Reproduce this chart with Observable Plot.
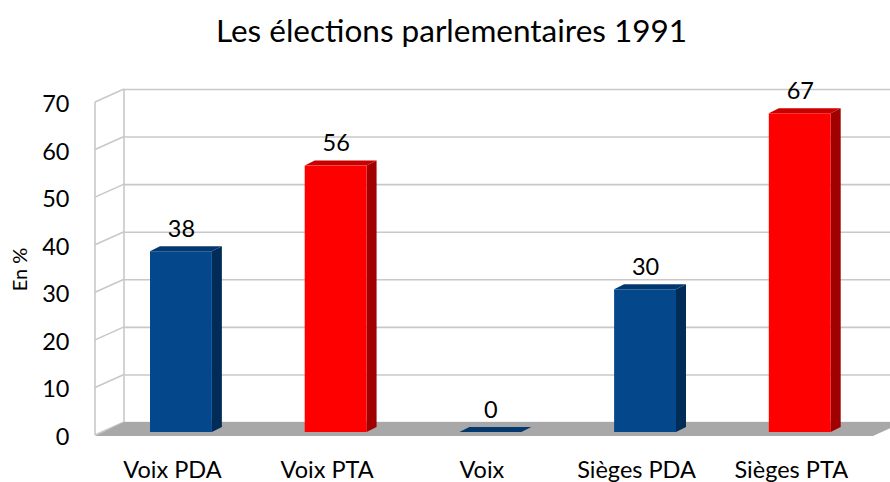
<!DOCTYPE html>
<html>
<head>
<meta charset="utf-8">
<script src="https://cdn.jsdelivr.net/npm/d3@7"></script>
<script src="https://cdn.jsdelivr.net/npm/@observablehq/plot@0.6"></script>
<style>
  html, body { margin: 0; padding: 0; background: #fff; overflow: hidden; }
  #chart svg { display: block; }
</style>
</head>
<body>
<div id="chart"></div>
<script>
// ---- data ----
const title = "Les élections parlementaires 1991";
const yLabel = "En %";
const categories = ["Voix PDA", "Voix PTA", "Voix", "Sièges PDA", "Sièges PTA"];
const values = [38, 56, 0, 30, 67];
const parties = ["PDA", "PTA", "PDA", "PDA", "PTA"];
const yTicks = [0, 10, 20, 30, 40, 50, 60, 70];

// ---- styles ----
const palette = {
  PDA: {front: "#04478a", top: "#03386e", side: "#022c58"},
  PTA: {front: "#ff0000", top: "#c80000", side: "#a00000"}
};
const FONT = "Lato, 'Open Sans', sans-serif";
const W = 890, H = 482;
const WALL_DX = -29, WALL_DY = 13;   // front plane offset vs back wall
const BAR_DY = 10;                   // bar front plane offset vs back wall
const DEPTH_DX = 10, DEPTH_DY = -5;  // bar depth
const GRID = "#c8c8c8";

const data = categories.map((c, i) => ({cat: c, value: values[i], party: parties[i]}));

// side wall, back wall edges
function walls(index, scales, values_, dims) {
  const {y} = scales;
  const ml = dims.marginLeft;
  const g = d3.create("svg:g").attr("fill", "none").attr("stroke", GRID).attr("stroke-width", 1.6);
  const top = d3.max(yTicks), bot = d3.min(yTicks);
  g.append("path").attr("d", `M${ml + WALL_DX},${y(top) + WALL_DY}L${ml + WALL_DX},${y(bot) + WALL_DY}`);
  g.append("path").attr("d", `M${ml},${y(top)}L${ml},${y(bot)}`);
  for (const t of yTicks) {
    g.append("path").attr("d", `M${ml + WALL_DX},${y(t) + WALL_DY}L${ml},${y(t)}`);
  }
  return g.node();
}

// floor
function floor(index, scales, values_, dims) {
  const {y} = scales;
  const ml = dims.marginLeft;
  const y0 = y(0);
  return d3.create("svg:path")
    .attr("fill", "#a8a8a8")
    .attr("d", `M${ml},${y0}L${dims.width + 14},${y0}L${dims.width - 17},${y0 + WALL_DY + 1}L${ml + WALL_DX},${y0 + WALL_DY + 1}Z`)
    .node();
}

// bar side & top faces
function barDepth(index, scales, values_, dims) {
  const {x, y} = scales;
  const bw = x.bandwidth();
  const g = d3.create("svg:g");
  data.forEach(d => {
    const x0 = x(d.cat), x1 = x0 + bw;
    const yb = y(0) + BAR_DY, yt = y(d.value) + BAR_DY;
    const col = palette[d.party];
    if (yb - yt > 0) {
      g.append("path").attr("fill", col.side)
        .attr("d", `M${x1},${yb}L${x1 + DEPTH_DX},${yb + DEPTH_DY}L${x1 + DEPTH_DX},${yt + DEPTH_DY}L${x1},${yt}Z`);
    }
    g.append("path").attr("fill", col.top)
      .attr("d", `M${x0},${yt}L${x1},${yt}L${x1 + DEPTH_DX},${yt + DEPTH_DY}L${x0 + DEPTH_DX},${yt + DEPTH_DY}Z`);
  });
  return g.node();
}

const chart = Plot.plot({
  width: W,
  height: H,
  marginLeft: 124,
  marginRight: 0,
  marginTop: 89,
  marginBottom: 60,
  style: {fontFamily: FONT, background: "#fff", color: "#000"},
  x: {domain: categories, range: [150, 830.7], paddingInner: 0.6, paddingOuter: 0, round: false},
  y: {domain: [0, 70]},
  color: {type: "identity"},
  marks: [
    Plot.ruleY(yTicks, {stroke: GRID, strokeWidth: 1.6}),
    walls,
    floor,
    barDepth,
    Plot.barY(data, {x: "cat", y: "value", fill: d => palette[d.party].front, dy: BAR_DY}),
    Plot.text(data, {x: "cat", y: "value", text: d => String(d.value), dy: BAR_DY - 15, lineAnchor: "bottom", fontSize: 23.5, fill: "#000"}),
    Plot.axisY(yTicks, {tickSize: 0, tickPadding: 26, dx: WALL_DX, dy: WALL_DY + 2, fontSize: 23.5, fill: "#000", label: null}),
    Plot.axisX({tickSize: 0, tickPadding: 0, dy: 39, dx: -9, fontSize: 23.5, fill: "#000", label: null}),
    Plot.text([title], {frameAnchor: "top", dx: 451 - (124 + 890) / 2, dy: 41 - 89, lineAnchor: "bottom", fontSize: 31.5, fill: "#000"}),
    Plot.text([yLabel], {frameAnchor: "left", textAnchor: "middle", rotate: -90, dx: 20.5 - 124, dy: 269 - (89 + 422) / 2, fontSize: 20, fill: "#000"})
  ]
});
document.getElementById("chart").appendChild(chart);
</script>
</body>
</html>
